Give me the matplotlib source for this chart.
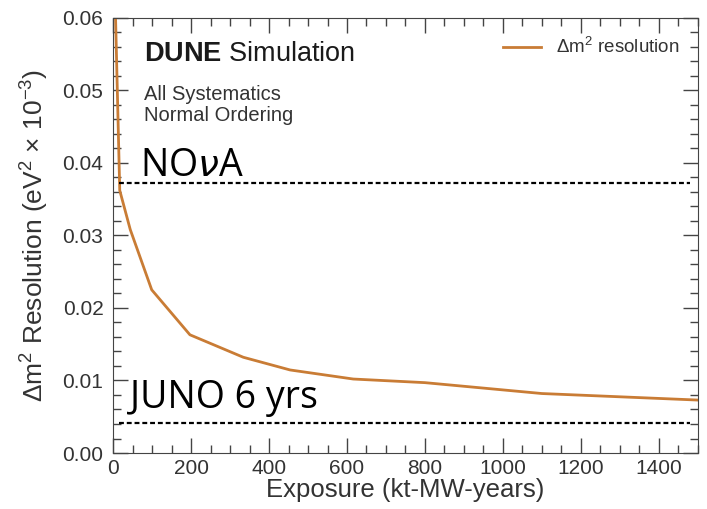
import numpy as np
import matplotlib
matplotlib.use("Agg")
import matplotlib.pyplot as plt
from matplotlib.ticker import MultipleLocator

#----------------------------------------------------
# data
#----------------------------------------------------
exposure = [4, 17, 44, 99, 197, 334, 454, 616, 800, 1100, 1500]
resolution = [0.065, 0.0362, 0.0308, 0.0225, 0.0163, 0.0132, 0.01145, 0.0102, 0.0097, 0.0082, 0.0073]

nova_level = 0.0372
juno_level = 0.0042
ref_xrange = [15, 1480]

line_color = "#c97c35"
text_color = "#333333"

plt.rcParams["font.family"] = ["Liberation Sans", "DejaVu Sans"]
plt.rcParams["mathtext.fontset"] = "custom"
plt.rcParams["mathtext.rm"] = "Liberation Sans"
plt.rcParams["mathtext.bf"] = "Liberation Sans:bold"

fig = plt.figure(figsize=(7.07, 5.09), dpi=100)
ax = fig.add_axes([0.16, 0.11, 0.827, 0.855])

ax.plot(exposure, resolution, color=line_color, lw=2.0, label=r"$\Delta$m$^2$ resolution")
ax.hlines([nova_level, juno_level], ref_xrange[0], ref_xrange[1],
          colors="black", linestyles=(0, (2.2, 1.3)), lw=1.6)

ax.set_xlim(0, 1500)
ax.set_ylim(0, 0.06)
ax.xaxis.set_major_locator(MultipleLocator(200))
ax.xaxis.set_minor_locator(MultipleLocator(50))
ax.yaxis.set_major_locator(MultipleLocator(0.01))
ax.yaxis.set_minor_locator(MultipleLocator(0.002))
ax.yaxis.set_major_formatter(plt.FormatStrFormatter("%.2f"))
ax.tick_params(which="both", direction="in", top=True, right=True,
               labelsize=15, labelcolor=text_color, color="#444444")
ax.tick_params(which="major", length=11, width=1, pad=4)
ax.tick_params(axis="y", which="major", pad=7)
ax.tick_params(which="minor", length=5.5, width=1)
for s in ax.spines.values():
    s.set_color("#444444")

ax.set_xlabel("Exposure (kt-MW-years)", fontsize=18.5, color=text_color, labelpad=0)
ax.set_ylabel(r"$\Delta$m$^2$ Resolution (eV$^2$ $\times$ 10$^{-3}$)",
              fontsize=19, color=text_color, labelpad=9)

# annotations
ax.text(0.052, 0.9, r"$\mathbf{DUNE}$ Simulation", transform=ax.transAxes,
        fontsize=19.5, color="#1a1a1a", va="baseline")
ax.text(0.052, 0.812, "All Systematics", transform=ax.transAxes,
        fontsize=14.5, color=text_color, va="baseline")
ax.text(0.052, 0.762, "Normal Ordering", transform=ax.transAxes,
        fontsize=14.5, color=text_color, va="baseline")

ax.text(70, 0.0382, r"NO$\nu$A", fontsize=27, family=["Open Sans", "DejaVu Sans"],
        color="black", va="baseline")
ax.text(44, 0.0062, "JUNO 6 yrs", fontsize=27, family=["Open Sans", "DejaVu Sans"],
        color="black", va="baseline")

ax.legend(loc="upper right", frameon=False, fontsize=13.5, handlelength=2.0,
          borderaxespad=0.6, labelcolor=text_color)

fig.savefig("out.png", dpi=100)
